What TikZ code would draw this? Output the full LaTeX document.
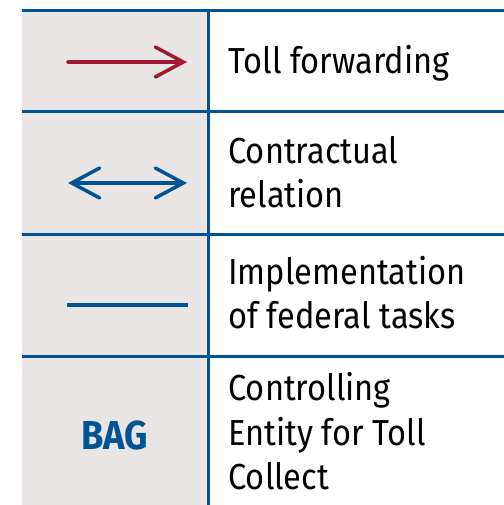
\documentclass[tikz,border=0pt]{standalone}
\usepackage{fontspec}
\setmainfont[FakeStretch=0.9]{Fira Sans}
\usetikzlibrary{arrows.meta}
\definecolor{tollblue}{RGB}{0,84,150}
\definecolor{tollred}{RGB}{160,25,48}
\definecolor{tollgray}{RGB}{233,229,228}
\tikzset{
  legtext/.style={anchor=base west, inner sep=0pt, align=left,
    font=\fontsize{20.6pt}{25.4pt}\selectfont},
  barb/.tip={Straight Barb[length=5.6mm, width=6mm, line cap=round]}
}
\begin{document}
\begin{tikzpicture}
    \useasboundingbox (0,0) rectangle (10.08,10.10);
    \fill[tollgray] (0.44, 0) rectangle (4.16, 9.88);

    % grid
    \draw[tollblue, line width = .06cm] (0.44, 9.88) -- (10.08, 9.88);
    \draw[tollblue, line width = .06cm] (0.44, 7.86) -- (10.08, 7.86);
    \draw[tollblue, line width = .06cm] (0.44, 5.40) -- (10.08, 5.40);
    \draw[tollblue, line width = .06cm] (0.44, 2.96) -- (10.08, 2.96);
    \draw[tollblue, line width = .06cm] (4.16, 9.91) -- (4.16, 0);

    % samples
    \draw[tollred, line width = .07cm, line cap=round, -barb] (1.36, 8.86) -- (3.74, 8.86);
    \draw[tollblue, line width = .07cm, line cap=round, barb-barb] (1.36, 6.44) -- (3.74, 6.44);
    \draw[tollblue, line width = .085cm] (1.34, 4.00) -- (3.76, 4.00);
    \node[font=\fontsize{23pt}{27pt}\selectfont\bfseries, text=tollblue] (bag) at (2.30, 1.40) {BAG};

    % labels (base = last line)
    \node[legtext] (forward) at (4.56, 8.62) {Toll forwarding};
    \node[legtext] (contract) at (4.56, 5.94) {Contractual\\relation};
    \node[legtext] (federal) at (4.56, 3.52) {Implementation\\of federal tasks};
    \node[legtext] (control) at (4.56, 0.30) {Controlling\\Entity for Toll\\Collect};
  \end{tikzpicture}
\end{document}
